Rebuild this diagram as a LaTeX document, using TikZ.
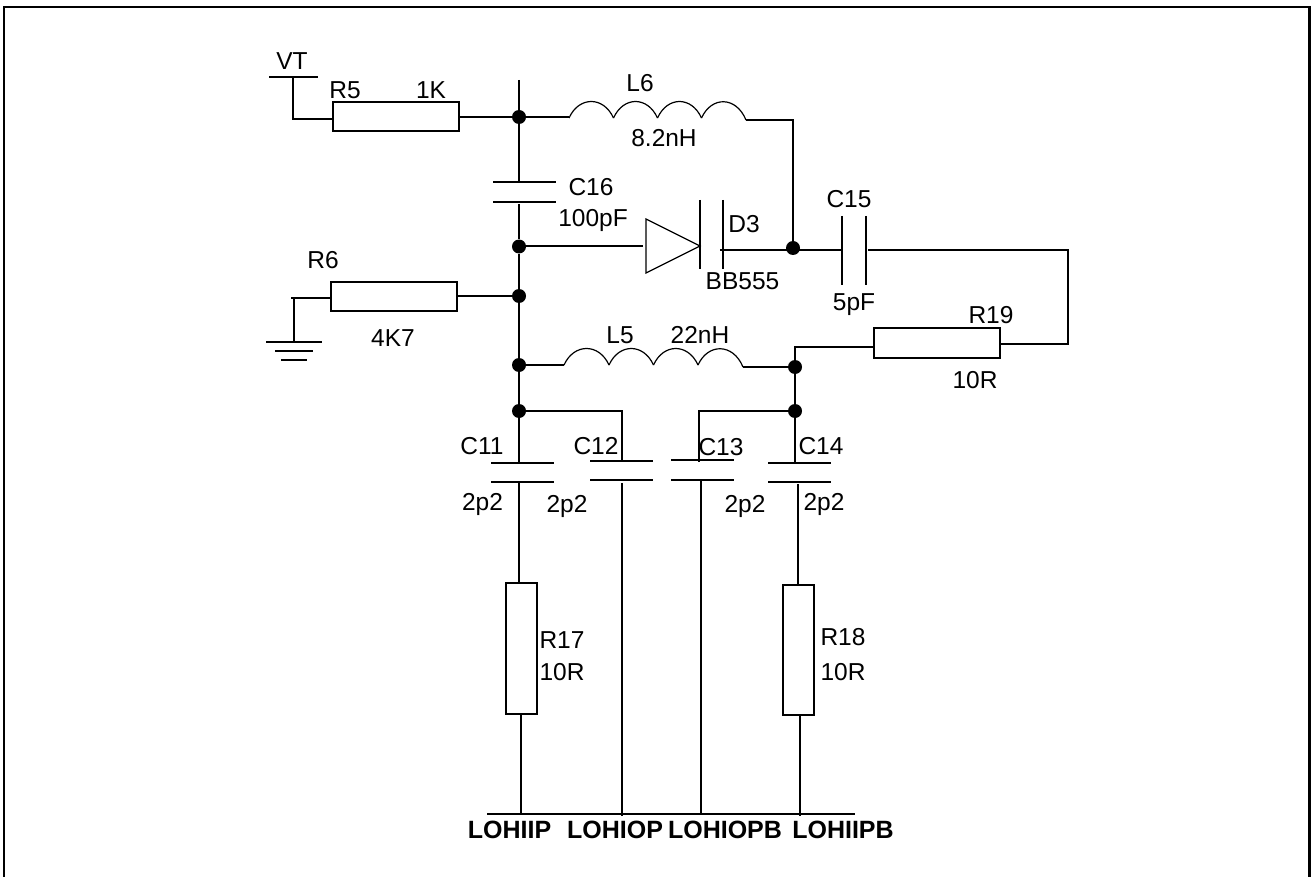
\documentclass[tikz,border=0pt]{standalone}
\usepackage{fontspec}
\setmainfont{Liberation Sans}
\tikzset{
  wire/.style={line width=2pt,line join=miter},
  thinline/.style={line width=1.2pt},
  res/.style={draw,line width=2pt,rectangle,inner sep=0pt,outer sep=0pt},
  dot/.style={circle,fill=black,draw=none,minimum size=14pt,inner sep=0pt},
  lbl/.style={anchor=base,inner sep=0pt,outer sep=0pt,font=\fontsize{24.5}{24.5}\selectfont},
  netlbl/.style={anchor=base,inner sep=0pt,outer sep=0pt,font=\fontsize{25}{25}\selectfont\bfseries}
}
\newcommand{\coilarc}[3]{\draw[thinline] (#2,#1) .. controls (#2+10,#1-22) and (#3-10,#1-22) .. (#3,#1);}
\begin{document}
\begin{tikzpicture}[x=1pt,y=-1pt]
\useasboundingbox (0,0) rectangle (1311,877);
% frame
\draw[line width=2.6pt] (4,877) -- (4,7) -- (1309.5,7) -- (1309.5,877);
% junctions
\node[dot] (j1) at (519,117) {};
\node[dot] (j2) at (519,246.5) {};
\node[dot] (j3) at (519,296) {};
\node[dot] (j4) at (519,365) {};
\node[dot] (j5) at (519,411) {};
\node[dot] (j6) at (793,248) {};
\node[dot] (j7) at (795,367) {};
\node[dot] (j8) at (795,411) {};
% resistors
\node[res,minimum width=126pt,minimum height=29pt] (R5) at (396,117) {};
\node[res,minimum width=126pt,minimum height=29pt] (R6) at (394,296) {};
\node[res,minimum width=126pt,minimum height=30pt] (R19) at (937,343) {};
\node[res,minimum width=31pt,minimum height=131pt] (R17) at (521,648) {};
\node[res,minimum width=31pt,minimum height=130pt] (R18) at (798.5,650) {};
% free points
\coordinate (vtL) at (269,77); \coordinate (vtR) at (318,77);
\coordinate (vtS) at (293,77); \coordinate (vtB) at (293,119);
\coordinate (top) at (519,80);
\coordinate (c16a) at (519,182); \coordinate (c16b) at (519,204);
\coordinate (l6a) at (569,117); \coordinate (l6b) at (746,120);
\coordinate (l5a) at (564,365); \coordinate (l5b) at (743,367);
\coordinate (diA) at (643,246.5); \coordinate (diC) at (720,250);
\coordinate (c15a) at (842,250); \coordinate (c15b) at (868,250);
\coordinate (cr) at (1068,250); \coordinate (crb) at (1068,344);
\coordinate (busL) at (487,814); \coordinate (busR) at (855,814);
\coordinate (c11t) at (519,463); \coordinate (c11b) at (519,483);
\coordinate (c12t) at (622,461); \coordinate (c12b) at (622,483);
\coordinate (c13t) at (699,462); \coordinate (c13b) at (701,480);
\coordinate (c14t) at (795,463); \coordinate (c14b) at (798,484);
% wires top
\draw[wire] (vtL) -- (vtR);
\draw[wire] (vtS) -- (vtB) -- (R5.west |- vtB);
\draw[wire] (R5.east |- j1) -- (j1);
\draw[wire] (top) -- (c16a);
\draw[wire] (493,182) -- (556,182);
\draw[wire] (493,202) -- (556,202);
\draw[wire] (c16b) -- (j2) -- (j3) -- (j4) -- (j5) -- (c11t);
\draw[wire] (j1) -- (l6a);
\coilarc{118}{569}{613.5}
\coilarc{118}{613.5}{657.5}
\coilarc{118}{657.5}{701.5}
\draw[thinline] (701.5,118) .. controls (711.5,96) and (736,96) .. (l6b);
\draw[wire] (l6b) -- (793,120) -- (j6);
% diode
\draw[wire] (j2) -- (diA);
\draw[thinline] (646,219) -- (700,246) -- (646,273) -- cycle;
\draw[wire] (700,200) -- (700,269);
\draw[wire] (723,200) -- (723,269);
\draw[wire] (diC) -- (c15a);
% C15
\draw[wire] (842,216) -- (842,285);
\draw[wire] (866,216) -- (866,285);
\draw[wire] (c15b) -- (cr) -- (crb) -- (R19.east |- crb);
% L5
\draw[wire] (j4) -- (l5a);
\coilarc{365}{564}{609}
\coilarc{365}{609}{653.5}
\coilarc{365}{653.5}{698}
\draw[thinline] (698,365) .. controls (708,343) and (733,343) .. (l5b);
\draw[wire] (l5b) -- (j7);
\draw[wire] (R19.west |- 0,347) -- (795,347) -- (j7) -- (j8) -- (c14t);
% R6 and ground
\draw[wire] (R6.east) -- (j3);
\draw[wire] (291,298) -- (R6.west |- 0,298);
\draw[wire] (294,298) -- (294,342);
\draw[wire] (266,342) -- (322,342);
\draw[wire] (275,351) -- (313,351);
\draw[wire] (281,360) -- (307,360);
% branch wires
\draw[wire] (j5) -- (622,411) -- (c12t);
\draw[wire] (j8) -- (699,411) -- (c13t);
% plates
\draw[wire] (491,463) -- (554,463);
\draw[wire] (491,482) -- (554,482);
\draw[wire] (590,461) -- (653,461);
\draw[wire] (590,480) -- (653,480);
\draw[wire] (671,460) -- (734,460);
\draw[wire] (671,480) -- (734,480);
\draw[wire] (768,463) -- (831,463);
\draw[wire] (768,482) -- (831,482);
% lower stems
\draw[wire] (c11b) -- (R17.north -| c11b);
\draw[wire] (R17.south) -- (R17.south |- busL);
\draw[wire] (c12b) -- (622,816);
\draw[wire] (c13b) -- (701,814);
\draw[wire] (c14b) -- (R18.north -| c14b);
\draw[wire] (R18.south -| 800,0) -- (800,816);
\draw[wire] (busL) -- (busR);
% labels
\node[lbl] (tVT) at (292,70) {VT};
\node[lbl] (tR5) at (345,99) {R5};
\node[lbl] (t1K) at (431,99) {1K};
\node[lbl] (tL6) at (640,92) {L6};
\node[lbl] (t82) at (664,147) {8.2nH};
\node[lbl] (tC16) at (591,196) {C16};
\node[lbl] (t100) at (593,227) {100pF};
\node[lbl] (tD3) at (744,233) {D3};
\node[lbl] (tBB) at (742.5,289) {BB555};
\node[lbl] (tC15) at (849,208) {C15};
\node[lbl] (t5p) at (854,310) {5pF};
\node[lbl] (tR6) at (323,269) {R6};
\node[lbl] (t4K) at (393,346) {4K7};
\node[lbl] (tR19) at (991,323) {R19};
\node[lbl] (t10a) at (975,388) {10R};
\node[lbl] (tL5) at (620,343) {L5};
\node[lbl] (t22) at (700,343) {22nH};
\node[lbl] (tC11) at (482,454) {C11};
\node[lbl] (tC12) at (596,454) {C12};
\node[lbl] (tC13) at (721,455) {C13};
\node[lbl] (tC14) at (821,454) {C14};
\node[lbl] (tp1) at (482.5,510) {2p2};
\node[lbl] (tp2) at (567,512) {2p2};
\node[lbl] (tp3) at (745,512) {2p2};
\node[lbl] (tp4) at (824,510) {2p2};
\node[lbl] (tR17) at (562,648) {R17};
\node[lbl] (t10b) at (562,680) {10R};
\node[lbl] (tR18) at (843,645) {R18};
\node[lbl] (t10c) at (843,680) {10R};
\node[netlbl] (nA) at (509.5,838) {LOHIIP};
\node[netlbl] (nB) at (615,838) {LOHIOP};
\node[netlbl] (nC) at (725,838) {LOHIOPB};
\node[netlbl] (nD) at (843,838) {LOHIIPB};
\end{tikzpicture}
\end{document}
